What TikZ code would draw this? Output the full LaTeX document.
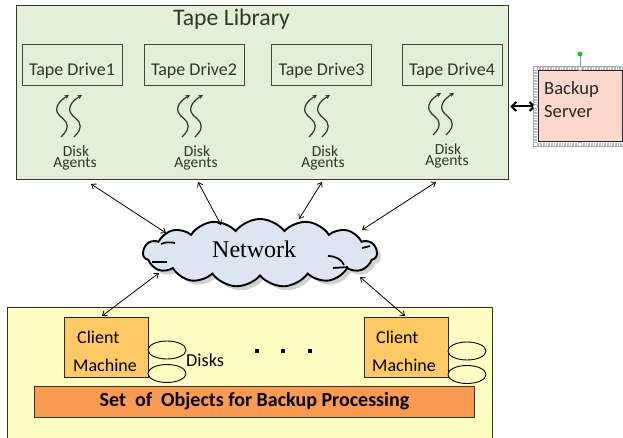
\documentclass[tikz,border=0pt]{standalone}
\usepackage{fontspec}
\setmainfont{Carlito}
\newfontfamily\timesf{Liberation Serif}
\usetikzlibrary{shapes.symbols,shapes.geometric,shadows,arrows.meta,calc}
\definecolor{libgreen}{HTML}{E2EFD9}
\definecolor{libline}{HTML}{2E3A28}
\definecolor{drvline}{HTML}{3A4F2E}
\definecolor{txtgreen}{HTML}{2A3B20}
\definecolor{srvfill}{HTML}{FCD9CC}
\definecolor{yel}{HTML}{FFFFC4}
\definecolor{cli}{HTML}{FFCA66}
\definecolor{barfill}{HTML}{FA9A50}
\definecolor{cloudfill}{HTML}{DCE6F2}
\definecolor{handlegreen}{HTML}{22C22A}
\tikzset{
  drivebox/.style={draw=drvline, line width=1pt, minimum width=100, minimum height=41,
    inner sep=0pt, font=\fontsize{18}{20}\selectfont, text=txtgreen, text height=21pt, text depth=0pt},
  agenttext/.style={font=\fontsize{15.5}{16}\selectfont, text=txtgreen, anchor=base, inner sep=0pt},
  plaintext/.style={anchor=base west, inner sep=0pt},
  disk/.style={ellipse, draw=black, line width=0.9pt, fill=yel, minimum width=38, minimum height=18, inner sep=0pt},
  clientbox/.style={draw=black!85, line width=0.9pt, fill=cli, minimum width=84, minimum height=60, inner sep=0pt, anchor=north west},
  link/.style={{Straight Barb[length=4pt,width=6pt]}-{Straight Barb[length=4pt,width=6pt]}, line width=0.8pt},
  squig/.pic={
    \draw[-{Stealth[length=4.5pt,width=4.5pt]}, line width=1.2pt, txtgreen]
      (0,0) .. controls (5,-5) and (8,-9) .. (5,-15) .. controls (2,-20) and (-6,-22) .. (-4,-30)
      .. controls (-3,-35) and (3,-39) .. (8,-42);
  }
}
\begin{document}
\begin{tikzpicture}[x=1pt,y=-1pt]
\useasboundingbox (0,0) rectangle (623,438);

% Tape library
\node[draw=libline, fill=libgreen, line width=1.4pt, minimum width=492, minimum height=174,
      inner sep=0pt, anchor=north west] (lib) at (16,5) {};
\node[plaintext, font=\fontsize{23.7}{26}\selectfont, text=txtgreen] (title) at (173,26) {Tape Library};

\node[drivebox] (d1) at (72,65.5) {Tape Drive1};
\node[drivebox] (d2) at (194,65.5) {Tape Drive2};
\node[drivebox] (d3) at (321.5,65.5) {Tape Drive3};
\node[drivebox] (d4) at (452,65.5) {Tape Drive4};

\pic at (61,137) {squig}; \pic at (74,137) {squig};
\pic at (182,137) {squig}; \pic at (195,137) {squig};
\pic at (309,137) {squig}; \pic at (322,137) {squig};
\pic at (433,135) {squig}; \pic at (446,135) {squig};

\node[agenttext] (a1a) at (76,157) {Disk};  \node[agenttext] (a1b) at (75,168) {Agents};
\node[agenttext] (a2a) at (197,157) {Disk}; \node[agenttext] (a2b) at (196,168) {Agents};
\node[agenttext] (a3a) at (325,157) {Disk}; \node[agenttext] (a3b) at (323,168) {Agents};
\node[agenttext] (a4a) at (448,154.5) {Disk}; \node[agenttext] (a4b) at (447,165.5) {Agents};

% Backup server with selection handles
\draw[gray!55, line width=3.5pt, dash pattern=on 0.8pt off 0.8pt] (535.5,68.5) rectangle (627,144.5);
\draw[gray!70, line width=0.4pt] (533.5,66.5) rectangle (629,146.5);
\node[draw=black!85, fill=srvfill, line width=1pt, minimum width=84, minimum height=71, inner sep=0pt] (srv) at (580,106.5) {};
\node[plaintext, font=\fontsize{18.6}{20}\selectfont, text=black!85] (srv1) at (544,95) {Backup};
\node[plaintext, font=\fontsize{18.6}{20}\selectfont, text=black!85] (srv2) at (544,118) {Server};
\draw[gray!80, line width=0.6pt] (580,54) -- (580,68.5);
\fill[handlegreen] (580,54) circle (2.5);
\foreach \p in {(535.5,68.5),(580,68.5),(535.5,144.5),(580,144.5)}
  \draw[gray!80, fill=white, line width=0.5pt] \p circle (2.2);

\draw[line width=2pt, {Straight Barb[length=4.5pt,width=9pt]}-{Straight Barb[length=4.5pt,width=9pt]}, shorten >=2pt, shorten <=1pt]
  (srv.west -| lib.east) -- (srv.west);
\draw[gray!80, fill=white, line width=0.5pt] (535.5,106.5) circle (2.2);

% Network cloud
\node[cloud, cloud puffs=15, cloud puff arc=105, aspect=3.5, draw=black, line width=1.9pt, fill=cloudfill,
      minimum width=234, minimum height=68, inner sep=0pt,
      drop shadow={shadow xshift=4pt, shadow yshift=-4pt, fill=black!35}] (net) at (260,253) {};
\node[plaintext, font=\timesf\fontsize{24}{26}\selectfont] (nett) at (212,257) {Network};
\draw[line width=1.7pt] (161,244) .. controls (165,242) and (170,242) .. (175,243);
\draw[line width=1.7pt] (152,262) -- (167,262);
\draw[line width=1.7pt] (328,256) .. controls (336,256) and (342,260) .. (344,265);
\draw[line width=1.7pt] (333,268) -- (348,267);
\draw[line width=1.7pt] (362,248) -- (370,246);

% Client area
\node[draw=black!80, fill=yel, line width=1pt, minimum width=485, minimum height=145,
      inner sep=0pt, anchor=north west] (area) at (7,307) {};
\node[clientbox] (c1) at (64,317) {};
\node[plaintext, font=\fontsize{18}{20}\selectfont] (c1a) at (77,343) {Client};
\node[plaintext, font=\fontsize{18}{20}\selectfont] (c1b) at (73,371) {Machine};
\node[disk] (e1a) at (167,350) {};
\node[disk] (e1b) at (167,373.5) {};
\node[plaintext, font=\fontsize{18.3}{20}\selectfont] (dsk) at (186,366) {Disks};

\node[clientbox] (c2) at (364,317) {};
\node[plaintext, font=\fontsize{18}{20}\selectfont] (c2a) at (376,343) {Client};
\node[plaintext, font=\fontsize{18}{20}\selectfont] (c2b) at (372,371) {Machine};
\node[disk] (e2a) at (467,351) {};
\node[disk] (e2b) at (467,374.5) {};

\foreach \x in {257,283,310} \fill (\x-2,349) rectangle (\x+2,353);

\node[draw=black!80, fill=barfill, line width=1pt, minimum width=440, minimum height=31, inner sep=0pt,
      anchor=north west, font=\bfseries\fontsize{20}{22}\selectfont, text height=9pt, text depth=0pt] (bar) at (34,386)
      {Set\ \ of\ \ Objects for Backup Processing};

% Connectors
\coordinate (t1) at (91,184);  \coordinate (n1) at (166,233);
\coordinate (t2) at (198,182); \coordinate (n2) at (221,225);
\coordinate (t3) at (322,182); \coordinate (n3) at (299,219);
\coordinate (t4) at (436,182); \coordinate (n4) at (362,230);
\coordinate (n5) at (159,273); \coordinate (b5) at (102,316);
\coordinate (n6) at (360,277); \coordinate (b6) at (405,316);
\draw[link] (t1) -- (n1);
\draw[link] (t2) -- (n2);
\draw[link] (t3) -- (n3);
\draw[link] (t4) -- (n4);
\draw[link] (n5) -- (b5);
\draw[link] (n6) -- (b6);
\end{tikzpicture}
\end{document}
